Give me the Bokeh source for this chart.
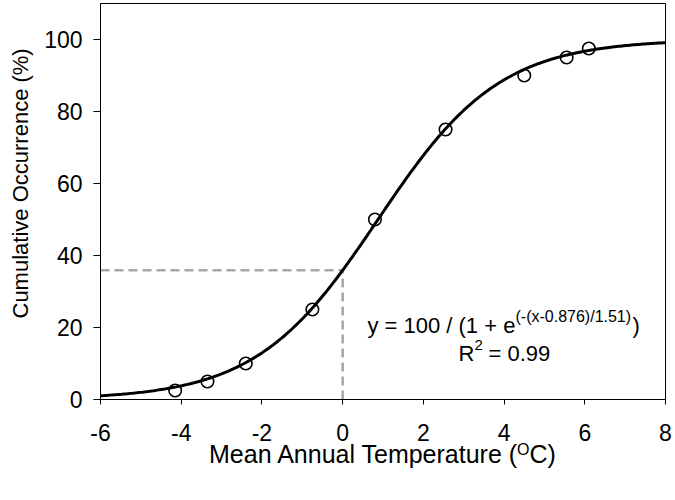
import numpy as np
from bokeh.plotting import figure
from bokeh.models import Label, Range1d, FixedTicker, Title, Div
from bokeh.layouts import column
from bokeh.embed import file_html
from bokeh.resources import INLINE

# ---- data ----
temperature = [-4.15, -3.35, -2.4, -0.75, 0.8, 2.55, 4.5, 5.55, 6.1]
occurrence = [2.5, 5.0, 10.0, 25.0, 50.0, 75.0, 90.0, 95.0, 97.5]

# fitted logistic shown in the chart: y = 100 / (1 + e^(-(x-0.876)/1.51))
FIT_TOP = 100.0
FIT_X0 = 0.876
FIT_S = 1.51

x_ticks = [-6, -4, -2, 0, 2, 4, 6, 8]
x_tick_labels = ["-6", "-4", "-2", "0", "2", "4", "6", "8"]
y_ticks = [0, 20, 40, 60, 80, 100]
y_tick_labels = ["0", "20", "40", "60", "80", "100"]
X_MIN, X_MAX = -6, 8
Y_MIN, Y_MAX = 0, 110

FONT = "Liberation Sans"


def fit(x):
    return FIT_TOP / (1.0 + np.exp(-(np.asarray(x) - FIT_X0) / FIT_S))


p = figure(frame_width=565, frame_height=396,
           min_border_left=100, min_border_right=8, min_border_top=3, min_border_bottom=45,
           x_range=Range1d(X_MIN, X_MAX), y_range=Range1d(Y_MIN, Y_MAX),
           output_backend="svg", toolbar_location=None)

p.grid.visible = False
p.outline_line_color = "black"
p.outline_line_width = 1
p.background_fill_color = "white"
p.border_fill_color = "white"

for ax in (p.xaxis, p.yaxis):
    ax.axis_line_color = "black"
    ax.axis_line_width = 1
    ax.major_tick_line_color = "black"
    ax.minor_tick_line_color = None
    ax.major_tick_in = 0
    ax.major_label_text_font = FONT
    ax.major_label_text_font_size = "23px"
    ax.major_label_text_color = "black"

p.xaxis.ticker = FixedTicker(ticks=x_ticks)
p.yaxis.ticker = FixedTicker(ticks=y_ticks)
p.xaxis.major_label_overrides = {t: s for t, s in zip(x_ticks, x_tick_labels)}
p.yaxis.major_label_overrides = {t: s for t, s in zip(y_ticks, y_tick_labels)}
p.xaxis.major_tick_out = 5
p.yaxis.major_tick_out = 7
p.xaxis.major_label_standoff = 19
p.yaxis.major_label_standoff = 11

# y-axis title
p.add_layout(Title(text="Cumulative Occurrence (%)", align="left", offset=81,
                   vertical_align="top",
                   text_font=FONT, text_font_size="22px", text_font_style="normal",
                   text_color="black", standoff=14), "left")

# reference dashed lines at x = 0
y0 = float(fit(0.0))
p.line([X_MIN, 0], [y0, y0], line_color="#A6A6A6", line_width=2.5, line_dash="9 5")
p.line([0, 0], [Y_MIN, y0], line_color="#A6A6A6", line_width=2.5, line_dash="9 5")

# fitted curve
xs = np.linspace(X_MIN, X_MAX, 300)
p.line(xs, fit(xs), line_color="black", line_width=3)

# observations
p.scatter(temperature, occurrence, marker="circle", size=12.5, fill_color=None,
          line_color="black", line_width=1.6)


def lab(text, x, y, size, align="left"):
    p.add_layout(Label(x=x, y=y, x_units="screen", y_units="screen", text=text,
                       text_font=FONT, text_font_size=size, text_color="black",
                       text_align=align, text_baseline="alphabetic"))


# equation text (screen units relative to the frame)
EQ_X1 = 421
EQ_X2 = 532
lab("y =  100 / (1 + e", EQ_X1, 74, "22px", align="right")
lab("(-(x-0.876)/1.51)", EQ_X1 - 6, 83, "16px", align="left")
lab(")", EQ_X2, 74, "22px", align="left")

R_X = 374
lab("R", R_X, 46, "22px", align="right")
lab("2", R_X, 55, "15px", align="left")
lab("= 0.99", R_X + 14, 46, "22px", align="left")

# x-axis title with superscript
xlabel = Div(text=(
    '<div style="width:667px;box-sizing:border-box;padding-left:98px;text-align:center;'
    "font-family:'Liberation Sans';font-size:25px;line-height:25px;color:black;\">"
    'Mean Annual Temperature (<span style="font-size:16px;vertical-align:8px;line-height:0;">O</span>C)'
    '</div>'), width=667, height=27, margin=(-2, 0, 0, 0))

layout = column(p, xlabel, spacing=0)
open("out.html", "w").write(file_html(layout, INLINE))
